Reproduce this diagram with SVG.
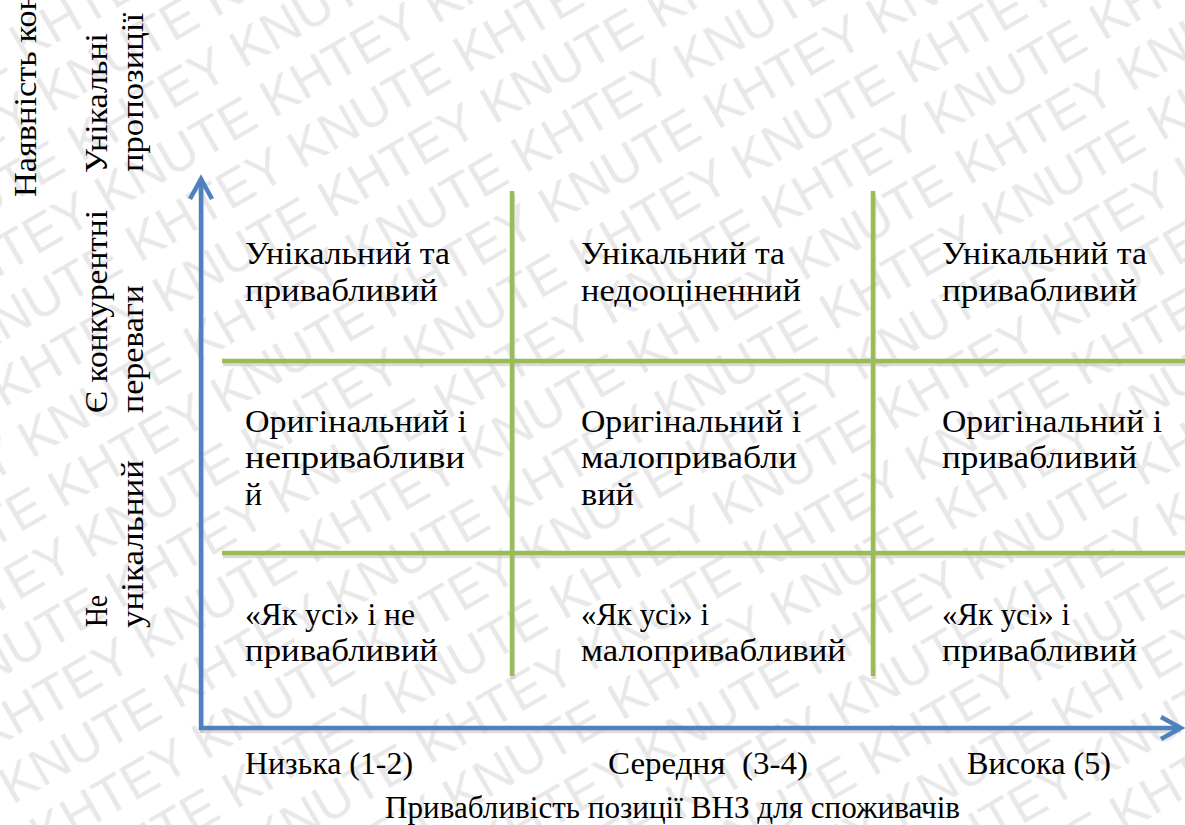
<svg xmlns="http://www.w3.org/2000/svg" width="1185" height="825" viewBox="0 0 1185 825">
<style>
.t{font-family:"Liberation Serif","DejaVu Serif",serif;font-size:32px;fill:#000;white-space:pre}
.wm{font-family:"Liberation Sans",Arial,sans-serif;font-size:52px;fill:#e8e8e8}
.g{stroke:#9bbb59;stroke-width:4.5;fill:none}
.b{stroke:#4f81bd;stroke-width:4.5;fill:none}
.sh{stroke:#c4c4c4;stroke-width:4.5;fill:none;opacity:0.6}
</style>
<defs>
<pattern id="wmp" patternUnits="userSpaceOnUse" width="378.5" height="116" patternTransform="translate(0,20) rotate(-30)">
<text class="wm" x="-378.5" y="48">KHTEY KNUTE KHTEY KNUTE KHTEY KNUTE</text>
<text class="wm" x="-567.7" y="106">KHTEY KNUTE KHTEY KNUTE KHTEY KNUTE</text>
</pattern>
<marker id="arr" markerUnits="userSpaceOnUse" markerWidth="30" markerHeight="30" refX="0" refY="0" orient="auto" overflow="visible">
<path d="M-20,-11 L0,0 L-20,11" fill="none" stroke="#4f81bd" stroke-width="4.5"/>
</marker>
</defs>
<rect x="0" y="0" width="1185" height="825" fill="#fff"/>
<rect id="watermark" x="0" y="0" width="1185" height="825" fill="url(#wmp)"/>

<g id="connectors">
<g id="shadows" transform="translate(1,3)">
<line class="sh" x1="222" y1="361" x2="1185" y2="361"/>
<line class="sh" x1="222" y1="553" x2="1185" y2="553"/>
<line class="sh" x1="512" y1="191" x2="512" y2="676"/>
<line class="sh" x1="873" y1="191" x2="873" y2="676"/>
<line class="sh" x1="201" y1="730" x2="201" y2="180"/>
<line class="sh" x1="199" y1="728" x2="1180" y2="728"/>
</g>
<g id="grid">
<line class="g" x1="222" y1="361" x2="1185" y2="361"/>
<line class="g" x1="222" y1="553" x2="1185" y2="553"/>
<line class="g" x1="512" y1="191" x2="512" y2="676"/>
<line class="g" x1="873" y1="191" x2="873" y2="676"/>
</g>
<g id="axes">
<line id="y-axis" class="b" x1="201" y1="730" x2="201" y2="179" marker-end="url(#arr)"/>
<line id="x-axis" class="b" x1="199" y1="728" x2="1181" y2="728" marker-end="url(#arr)"/>
</g>
</g>

<g id="cell-r1c1">
<text class="t" x="245" y="264" textLength="205" lengthAdjust="spacingAndGlyphs">Унікальний та</text>
<text class="t" x="245" y="301" textLength="193" lengthAdjust="spacingAndGlyphs">привабливий</text>
</g>
<g id="cell-r1c2">
<text class="t" x="581" y="264" textLength="204" lengthAdjust="spacingAndGlyphs">Унікальний та</text>
<text class="t" x="581" y="301" textLength="220" lengthAdjust="spacingAndGlyphs">недооціненний</text>
</g>
<g id="cell-r1c3">
<text class="t" x="942" y="264" textLength="205" lengthAdjust="spacingAndGlyphs">Унікальний та</text>
<text class="t" x="942" y="301" textLength="195" lengthAdjust="spacingAndGlyphs">привабливий</text>
</g>
<g id="cell-r2c1">
<text class="t" x="245" y="432" textLength="222" lengthAdjust="spacingAndGlyphs">Оригінальний і</text>
<text class="t" x="245" y="468" textLength="220" lengthAdjust="spacingAndGlyphs">непривабливи</text>
<text class="t" x="245" y="505">й</text>
</g>
<g id="cell-r2c2">
<text class="t" x="581" y="432" textLength="220" lengthAdjust="spacingAndGlyphs">Оригінальний і</text>
<text class="t" x="581" y="468" textLength="216" lengthAdjust="spacingAndGlyphs">малопривабли</text>
<text class="t" x="581" y="505" textLength="53" lengthAdjust="spacingAndGlyphs">вий</text>
</g>
<g id="cell-r2c3">
<text class="t" x="942" y="432" textLength="220" lengthAdjust="spacingAndGlyphs">Оригінальний і</text>
<text class="t" x="942" y="468" textLength="195" lengthAdjust="spacingAndGlyphs">привабливий</text>
</g>
<g id="cell-r3c1">
<text class="t" x="245" y="625" textLength="170" lengthAdjust="spacingAndGlyphs">«Як усі» і не</text>
<text class="t" x="245" y="661" textLength="193" lengthAdjust="spacingAndGlyphs">привабливий</text>
</g>
<g id="cell-r3c2">
<text class="t" x="581" y="625" textLength="128" lengthAdjust="spacingAndGlyphs">«Як усі» і</text>
<text class="t" x="581" y="661" textLength="265" lengthAdjust="spacingAndGlyphs">малопривабливий</text>
</g>
<g id="cell-r3c3">
<text class="t" x="942" y="625" textLength="128" lengthAdjust="spacingAndGlyphs">«Як усі» і</text>
<text class="t" x="942" y="661" textLength="195" lengthAdjust="spacingAndGlyphs">привабливий</text>
</g>

<g id="x-labels">
<text class="t" x="245" y="774" textLength="168" lengthAdjust="spacingAndGlyphs">Низька (1-2)</text>
<text class="t" x="608" y="774" textLength="200" lengthAdjust="spacingAndGlyphs">Середня  (3-4)</text>
<text class="t" x="967" y="774" textLength="144" lengthAdjust="spacingAndGlyphs">Висока (5)</text>
<text class="t" x="385" y="818" textLength="575" lengthAdjust="spacingAndGlyphs">Привабливість позиції ВНЗ для споживачів</text>
</g>

<g id="y-title">
<text class="t" x="36" y="197" transform="rotate(-90 36 197)" textLength="205" lengthAdjust="spacingAndGlyphs">Наявність кон</text>
</g>
<g id="y-label-top">
<text class="t" x="107" y="173" transform="rotate(-90 107 173)" textLength="140" lengthAdjust="spacingAndGlyphs">Унікальні</text>
<text class="t" x="143" y="172" transform="rotate(-90 143 172)" textLength="159" lengthAdjust="spacingAndGlyphs">пропозиції</text>
</g>
<g id="y-label-mid">
<text class="t" x="107" y="413" transform="rotate(-90 107 413)" textLength="203" lengthAdjust="spacingAndGlyphs">Є конкурентні</text>
<text class="t" x="143" y="413" transform="rotate(-90 143 413)" textLength="128" lengthAdjust="spacingAndGlyphs">переваги</text>
</g>
<g id="y-label-low">
<text class="t" x="107" y="627" transform="rotate(-90 107 627)" textLength="32" lengthAdjust="spacingAndGlyphs">Не</text>
<text class="t" x="143" y="628" transform="rotate(-90 143 628)" textLength="168" lengthAdjust="spacingAndGlyphs">унікальний</text>
</g>
</svg>
